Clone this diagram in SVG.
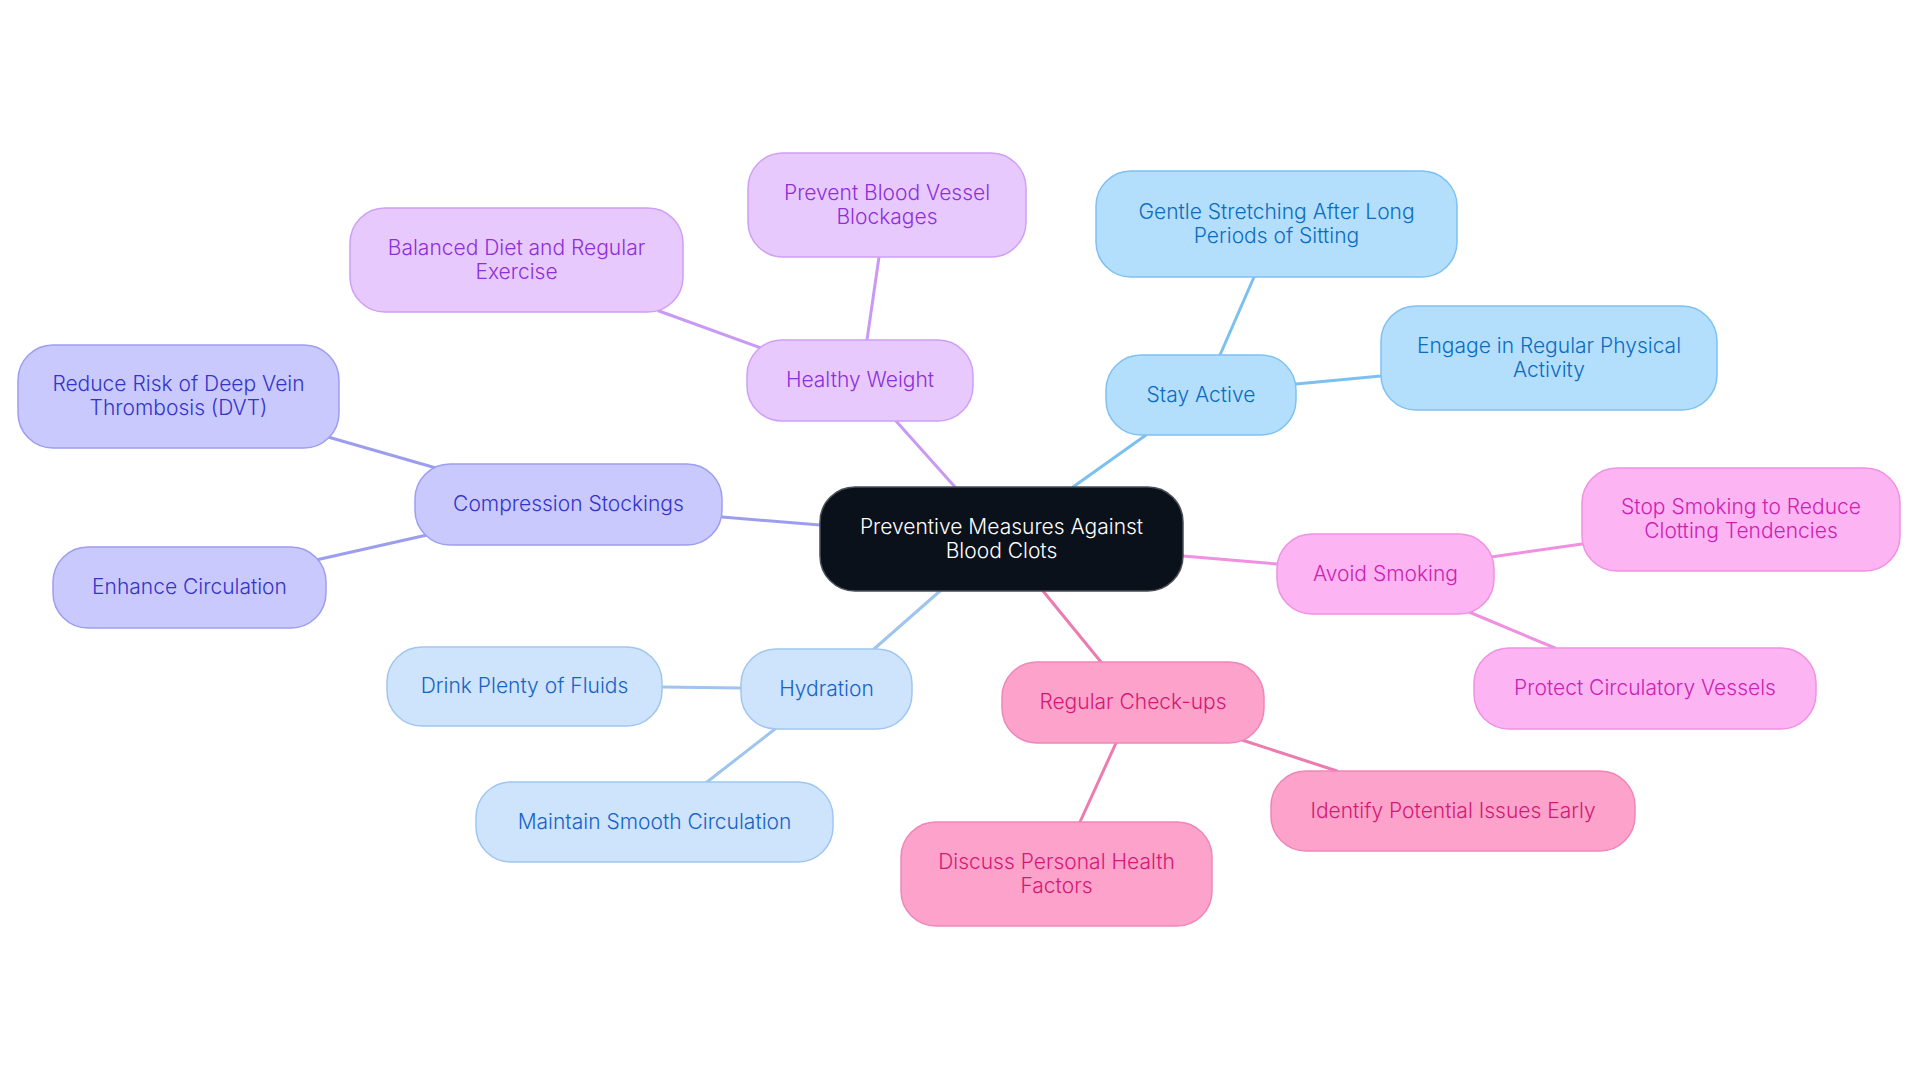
<svg xmlns="http://www.w3.org/2000/svg" width="1920" height="1083" viewBox="0 0 1920 1083">
<style>
text{font-family:Inter,"Noto Sans","Liberation Sans",sans-serif;font-size:21px;font-weight:300;text-anchor:middle}
.e{fill:none;stroke-width:3;stroke-linecap:round}
rect{stroke-width:1.5}
.c0 rect{fill:#0b111a;stroke:#4a4f57}.c0 text{fill:#ffffff}
.p rect{fill:#e8c9fe;stroke:#cf9ff5}.p text{fill:#8e2fd9}
.b rect{fill:#b3dffd;stroke:#7fc1f2}.b text{fill:#0b6cc0}
.v rect{fill:#c9c9fd;stroke:#9d9df2}.v text{fill:#3434c9}
.h rect{fill:#cde4fc;stroke:#a0c6f0}.h text{fill:#1763c7}
.r rect{fill:#fda3cb;stroke:#ee86b8}.r text{fill:#d41876}
.m rect{fill:#fdb4f2;stroke:#f091e3}.m text{fill:#cc22b3}
</style>
<rect width="1920" height="1083" fill="#ffffff"/>
<g id="connectors">
<path class="e" stroke="#c99af5" d="M955,487L896,421M867,340L879,257M764,349L659,311"/>
<path class="e" stroke="#7cc0ef" d="M1073,487L1146,435M1220,355L1254,277M1296,384L1381,376"/>
<path class="e" stroke="#9d9df0" d="M820,525L722,517M436,468L328,437M427,535L316,560"/>
<path class="e" stroke="#9ec4ef" d="M940,591L874,649M741,688L662,687M775,729L707,782"/>
<path class="e" stroke="#ec7bb0" d="M1043,591L1101,662M1242,740L1337,771M1116,743L1080,822"/>
<path class="e" stroke="#f090e0" d="M1183,556L1277,564M1491,557L1582,544M1469,612L1555,648"/>
</g>
<g id="center" class="c0"><rect x="820" y="487" width="363" height="104" rx="35"/><text x="1001.5" y="534">Preventive Measures Against</text><text x="1001.5" y="558">Blood Clots</text></g>
<g id="healthy-weight" class="p"><rect x="747" y="340" width="226" height="81" rx="35"/><text x="860" y="387">Healthy Weight</text></g>
<g id="prevent-blockages" class="p"><rect x="748" y="153" width="278" height="104" rx="35"/><text x="887" y="199.5">Prevent Blood Vessel</text><text x="887" y="223.5">Blockages</text></g>
<g id="balanced-diet" class="p"><rect x="350" y="208" width="333" height="104" rx="35"/><text x="516.5" y="254.5">Balanced Diet and Regular</text><text x="516.5" y="278.5">Exercise</text></g>
<g id="stay-active" class="b"><rect x="1106" y="355" width="190" height="80" rx="35"/><text x="1201" y="401.5">Stay Active</text></g>
<g id="gentle-stretching" class="b"><rect x="1096" y="171" width="361" height="106" rx="35"/><text x="1276.5" y="218.5">Gentle Stretching After Long</text><text x="1276.5" y="242.5">Periods of Sitting</text></g>
<g id="engage-activity" class="b"><rect x="1381" y="306" width="336" height="104" rx="35"/><text x="1549" y="352.5">Engage in Regular Physical</text><text x="1549" y="376.5">Activity</text></g>
<g id="compression" class="v"><rect x="415" y="464" width="307" height="81" rx="35"/><text x="568.5" y="511">Compression Stockings</text></g>
<g id="reduce-dvt" class="v"><rect x="18" y="345" width="321" height="103" rx="35"/><text x="178.5" y="391">Reduce Risk of Deep Vein</text><text x="178.5" y="415">Thrombosis (DVT)</text></g>
<g id="enhance-circulation" class="v"><rect x="53" y="547" width="273" height="81" rx="35"/><text x="189.5" y="594">Enhance Circulation</text></g>
<g id="hydration" class="h"><rect x="741" y="649" width="171" height="80" rx="35"/><text x="826.5" y="695.5">Hydration</text></g>
<g id="drink-fluids" class="h"><rect x="387" y="647" width="275" height="79" rx="35"/><text x="524.5" y="693">Drink Plenty of Fluids</text></g>
<g id="smooth-circulation" class="h"><rect x="476" y="782" width="357" height="80" rx="35"/><text x="654.5" y="828.5">Maintain Smooth Circulation</text></g>
<g id="checkups" class="r"><rect x="1002" y="662" width="262" height="81" rx="35"/><text x="1133" y="709">Regular Check-ups</text></g>
<g id="identify-issues" class="r"><rect x="1271" y="771" width="364" height="80" rx="35"/><text x="1453" y="817.5">Identify Potential Issues Early</text></g>
<g id="discuss-factors" class="r"><rect x="901" y="822" width="311" height="104" rx="35"/><text x="1056.5" y="868.5">Discuss Personal Health</text><text x="1056.5" y="892.5">Factors</text></g>
<g id="avoid-smoking" class="m"><rect x="1277" y="534" width="217" height="80" rx="35"/><text x="1385.5" y="580.5">Avoid Smoking</text></g>
<g id="stop-smoking" class="m"><rect x="1582" y="468" width="318" height="103" rx="35"/><text x="1741" y="514">Stop Smoking to Reduce</text><text x="1741" y="538">Clotting Tendencies</text></g>
<g id="protect-vessels" class="m"><rect x="1474" y="648" width="342" height="81" rx="35"/><text x="1645" y="695">Protect Circulatory Vessels</text></g>
</svg>
